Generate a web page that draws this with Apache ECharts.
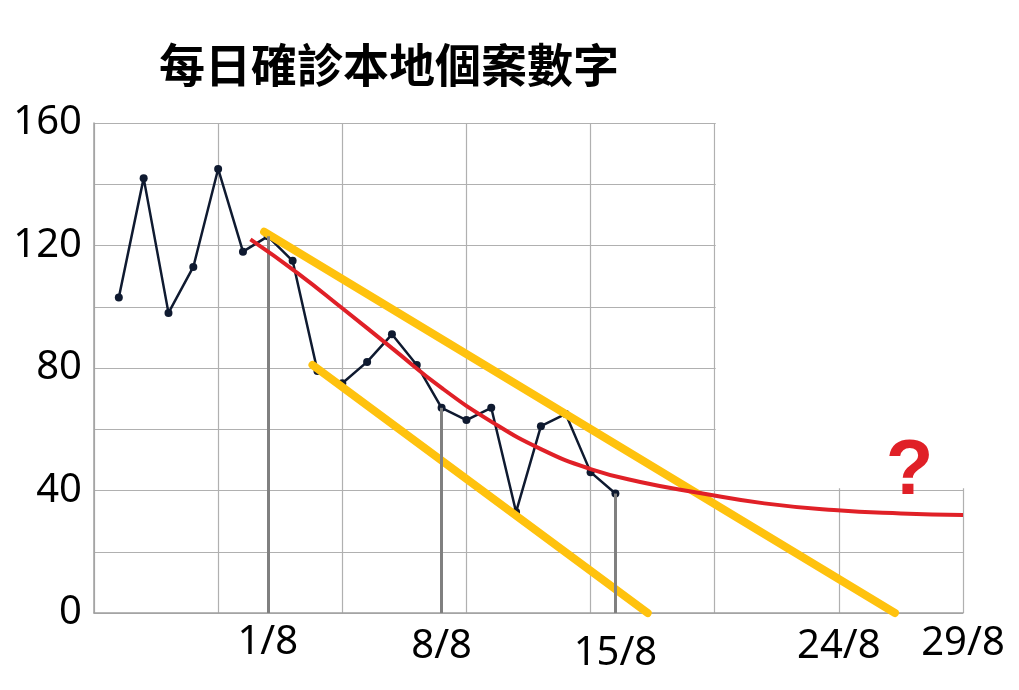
<!DOCTYPE html>
<html>
<head>
<meta charset="utf-8">
<title>每日確診本地個案數字</title>
<script src="https://cdn.jsdelivr.net/npm/echarts@6/dist/echarts.min.js"></script>
<style>
  html, body { margin: 0; padding: 0; background: #fff; }
  #chart { width: 1019px; height: 690px; }
</style>
</head>
<body>
<div id="chart"></div>
<script>
// 日期 (x 軸以 25/7 為第 0 日)
const dates = ['26/7', '27/7', '28/7', '29/7', '30/7', '31/7', '1/8', '2/8', '3/8', '4/8', '5/8',
  '6/8', '7/8', '8/8', '9/8', '10/8', '11/8', '12/8', '13/8', '14/8', '15/8'];
// 每日確診本地個案
const cases = [103, 142, 98, 113, 145, 118, 123, 115, 79, 75, 82, 91, 81, 67, 63, 67, 33, 61, 65, 46, 39];

// x 軸標籤
const tickDays = [7, 14, 21, 30, 35];
const tickLabels = ['1/8', '8/8', '15/8', '24/8', '29/8'];
// y 軸標籤
const yTicks = [0, 40, 80, 120, 160];

// 垂直參考線 (由數據點落到 x 軸)
const dropDates = ['1/8', '8/8', '15/8'];

// 紅色趨勢曲線 (讀圖取點)
const trendDay = [6.3, 8.2, 10, 12, 14, 16, 18, 20, 22, 24.4, 27, 29.8, 32.5, 35];
const trendVal = [122, 111, 99.5, 86.5, 73.5, 62.5, 53.5, 47, 42.8, 39.2, 35.8, 33.6, 32.5, 32];

// 黃色通道線
const upperDay = [6.85, 32.26];
const upperVal = [124.5, 0];
const lowerDay = [8.8, 22.3];
const lowerVal = [81, 0];

// 問號位置
const qMark = [32.85, 46];

// 右上角沒有格線的範圍
const blankFrom = [25.04, 40.7];
const blankTo = [35, 160];

const dayOf = d => dates.indexOf(d) + 1;
const casePts = cases.map((v, i) => [i + 1, v]);
const pair = (xs, ys) => xs.map((x, i) => [x, ys[i]]);

const chart = echarts.init(document.getElementById('chart'));

const option = {
  animation: false,
  title: {
    text: '每日確診本地個案數字',
    left: 154,
    top: 37,
    textStyle: {
      fontFamily: '"Noto Sans CJK TC", "Noto Sans CJK SC", sans-serif',
      fontSize: 46,
      fontWeight: 'bold',
      color: '#000'
    }
  },
  grid: { left: 94, right: 56, top: 123, bottom: 77 },
  xAxis: {
    type: 'value',
    min: 0,
    max: 35,
    interval: 5,
    axisLine: { show: true, lineStyle: { color: '#a0a0a0', width: 1.5 } },
    axisTick: { show: false },
    splitLine: { show: true, lineStyle: { color: '#b0b0b0', width: 1.2 } },
    axisLabel: {
      customValues: tickDays,
      margin: 10,
      formatter: function (v) {
        const i = tickDays.indexOf(v);
        return i < 0 ? '' : '{l' + i + '|' + tickLabels[i] + '}';
      },
      color: '#000',
      fontFamily: '"Noto Sans", sans-serif',
      fontSize: 40,
      rich: {
        l0: { fontSize: 40, padding: [0, 0, 0, 0] },
        l1: { fontSize: 40, padding: [4, 0, 0, 0] },
        l2: { fontSize: 40, padding: [11, 0, 0, 0] },
        l3: { fontSize: 40, padding: [4, 0, 0, 0] },
        l4: { fontSize: 40, padding: [1, 0, 0, 0] }
      }
    }
  },
  yAxis: {
    type: 'value',
    min: 0,
    max: 160,
    interval: 20,
    axisLine: { show: true, lineStyle: { color: '#a0a0a0', width: 1.5 } },
    axisTick: { show: false },
    splitLine: { show: true, lineStyle: { color: '#b0b0b0', width: 1.2 } },
    axisLabel: {
      margin: 12,
      color: '#000',
      fontFamily: '"Noto Sans", sans-serif',
      fontSize: 40,
      formatter: v => (yTicks.indexOf(v) >= 0 ? String(v) : '')
    }
  },
  series: [
    {
      name: '本地個案',
      type: 'line',
      data: casePts,
      z: 3,
      symbol: 'circle',
      symbolSize: 8,
      lineStyle: { color: '#0f1a30', width: 2.5 },
      itemStyle: { color: '#0f1a30' },
      markLine: {
        silent: true,
        symbol: 'none',
        label: { show: false },
        lineStyle: { color: '#808080', width: 3, type: 'solid' },
        data: dropDates.map(d => [
          { coord: [dayOf(d), cases[dayOf(d) - 1]] },
          { coord: [dayOf(d), 0] }
        ])
      }
    },
    {
      type: 'line',
      data: pair(upperDay, upperVal),
      z: 4,
      clip: false,
      symbol: 'none',
      lineStyle: { color: '#ffc20e', width: 8, cap: 'round' }
    },
    {
      type: 'line',
      data: pair(lowerDay, lowerVal),
      z: 4,
      clip: false,
      symbol: 'none',
      lineStyle: { color: '#ffc20e', width: 8, cap: 'round' }
    },
    {
      type: 'line',
      data: pair(trendDay, trendVal),
      z: 5,
      smooth: 0.5,
      symbol: 'none',
      lineStyle: { color: '#e02027', width: 4 },
      markPoint: {
        silent: true,
        symbol: 'circle',
        symbolSize: 1,
        itemStyle: { color: 'rgba(0,0,0,0)' },
        data: [{
          coord: qMark,
          label: {
            show: true,
            position: 'inside',
            formatter: '?',
            fontFamily: '"Liberation Sans", sans-serif',
            fontSize: 78,
            fontWeight: 'bold',
            color: '#e02027'
          }
        }]
      }
    }
  ]
};

chart.setOption(option);

// 用白色矩形蓋住右上角的格線 (位置由座標軸換算)
const p0 = chart.convertToPixel({ gridIndex: 0 }, blankFrom);
const p1 = chart.convertToPixel({ gridIndex: 0 }, blankTo);
chart.setOption({
  graphic: [{
    type: 'rect',
    z: 1,
    silent: true,
    shape: {
      x: p0[0],
      y: p1[1] - 2,
      width: p1[0] - p0[0] + 2,
      height: p0[1] - p1[1] + 2
    },
    style: { fill: '#fff' }
  }]
});
</script>
</body>
</html>
